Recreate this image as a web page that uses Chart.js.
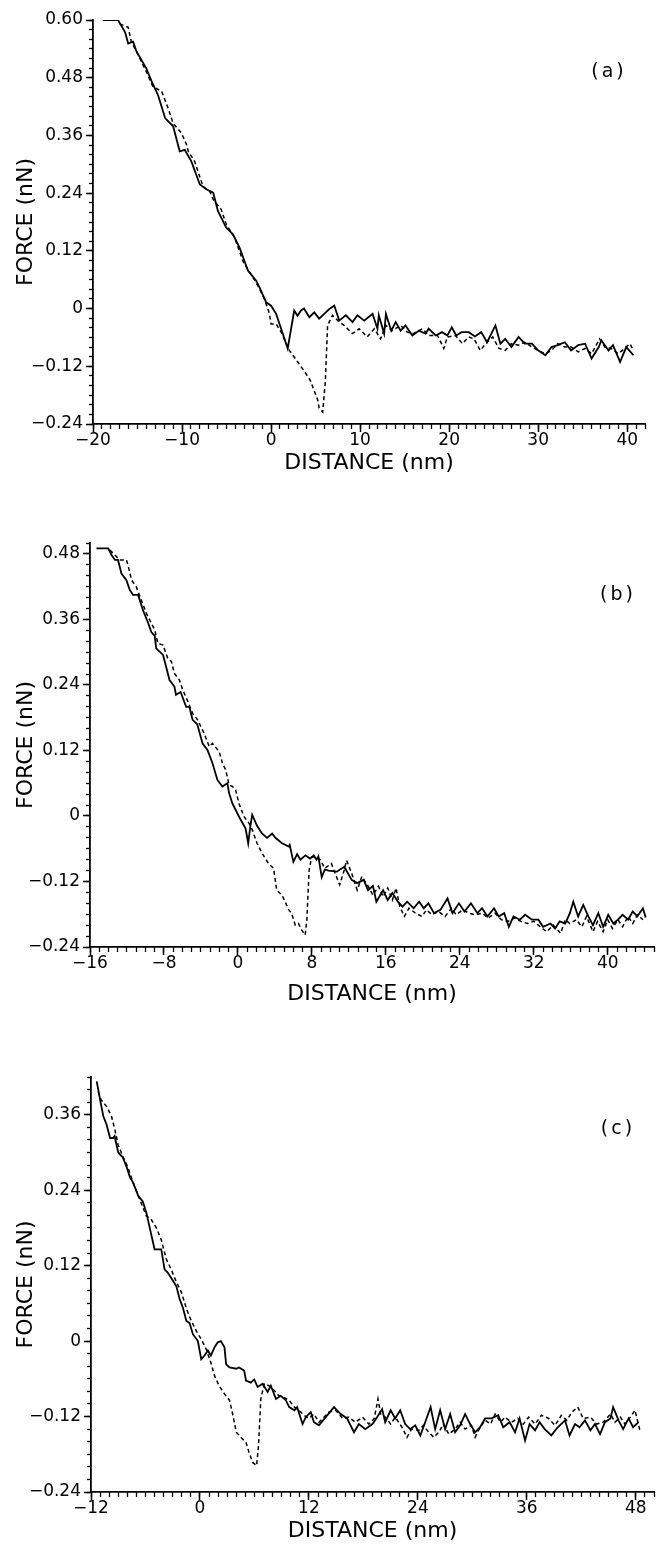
<!DOCTYPE html>
<html><head><meta charset="utf-8">
<script src="https://cdn.jsdelivr.net/npm/chart.js@4.4.0/dist/chart.umd.min.js"></script>
<style>
html,body{margin:0;padding:0;background:#fff;}
body{width:657px;height:1544px;position:relative;overflow:hidden;}
canvas{position:absolute;left:0;}
</style></head><body>
<canvas id="ca" width="657" height="476" style="top:0px;width:657px;height:476px"></canvas>
<canvas id="cb" width="657" height="534" style="top:476px;width:657px;height:534px"></canvas>
<canvas id="cc" width="657" height="534" style="top:1010px;width:657px;height:534px"></canvas>
<script>
// ---------- Panel (a) ----------
const aSolidX = [-18.9,-17.2,-16.4,-16.05,-15.5,-15.1,-14.0,-13.4,-12.7,-11.9,
  -11.0,-10.26,-9.7,-8.95,-8.0,-7.27,-6.5,-5.97,-5.03,-4.3,
  -3.54,-2.6,-1.67,-1.3,-0.55,0.0,0.57,1.13,1.87,2.6,
  2.97,3.36,3.7,4.3,4.85,5.4,5.97,6.54,7.1,7.66,
  8.4,9.15,9.7,10.46,11.4,11.95,12.1,12.7,12.9,13.5,
  14.0,14.55,15.1,15.86,16.6,17.35,17.7,18.5,19.2,19.8,
  20.3,20.8,21.4,22.2,22.9,23.6,24.26,25.2,25.76,26.3,
  27.0,27.8,28.5,29.3,30.0,30.8,31.5,32.2,33.0,33.7,
  34.5,35.27,36.0,36.8,37.1,37.9,38.4,39.2,39.9,40.7];
const aSolidY = [0.60,0.60,0.575,0.551,0.555,0.534,0.499,0.472,0.444,0.396,
  0.379,0.327,0.330,0.306,0.258,0.248,0.241,0.203,0.168,0.155,
  0.127,0.079,0.058,0.044,0.013,0.006,-0.011,-0.042,-0.083,-0.004,
  -0.015,-0.004,0.0,-0.018,-0.008,-0.021,-0.011,-0.001,0.006,-0.025,
  -0.014,-0.028,-0.014,-0.025,-0.011,-0.042,-0.014,-0.052,-0.011,-0.046,
  -0.028,-0.046,-0.035,-0.056,-0.046,-0.052,-0.042,-0.056,-0.049,-0.056,
  -0.039,-0.056,-0.049,-0.049,-0.058,-0.049,-0.070,-0.035,-0.073,-0.063,
  -0.080,-0.059,-0.073,-0.073,-0.087,-0.097,-0.080,-0.076,-0.070,-0.087,
  -0.076,-0.073,-0.104,-0.080,-0.066,-0.087,-0.076,-0.111,-0.080,-0.097];
const aDashX = [-17.0,-16.05,-15.7,-15.1,-14.0,-13.26,-12.3,-11.57,-11.0,-10.07,
  -9.5,-9.3,-8.58,-7.65,-6.9,-6.5,-5.6,-5.03,-4.1,-3.17,
  -2.05,-1.49,-0.74,-0.18,0.0,0.57,1.13,2.06,3.0,3.9,
  4.4,5.24,5.4,5.8,6.1,6.35,6.9,7.5,8.2,9.15,
  9.9,10.8,11.6,12.3,12.9,13.6,14.55,15.3,16.0,17.0,
  17.7,18.7,19.4,19.8,20.7,21.5,22.2,22.8,23.5,24.1,
  24.9,25.6,26.3,27.0,27.8,28.5,29.3,30.0,30.8,31.5,
  32.2,33.0,33.7,34.5,35.27,36.0,36.9,37.5,38.2,39.0,
  39.7,40.3,40.7];
const aDashY = [0.592,0.585,0.555,0.534,0.492,0.461,0.452,0.417,0.385,0.365,
  0.341,0.327,0.306,0.254,0.244,0.227,0.206,0.175,0.148,0.099,
  0.065,0.048,0.020,-0.011,-0.032,-0.032,-0.049,-0.087,-0.111,-0.135,
  -0.149,-0.190,-0.207,-0.215,-0.150,-0.035,-0.014,-0.025,-0.035,-0.052,
  -0.042,-0.059,-0.042,-0.063,-0.035,-0.046,-0.035,-0.049,-0.052,-0.042,
  -0.056,-0.056,-0.083,-0.059,-0.056,-0.073,-0.059,-0.063,-0.087,-0.073,
  -0.059,-0.083,-0.087,-0.073,-0.076,-0.070,-0.080,-0.087,-0.094,-0.087,
  -0.073,-0.080,-0.080,-0.090,-0.083,-0.094,-0.063,-0.080,-0.083,-0.094,
  -0.083,-0.073,-0.087];

// ---------- Panel (b) ----------
const bSolidX = [-15.3,-14.03,-13.67,-13.3,-12.97,-12.6,-12.06,-11.7,-11.35,-10.8,
  -10.27,-9.7,-9.37,-9.0,-8.84,-8.1,-7.76,-7.4,-6.87,-6.7,
  -6.2,-5.6,-5.26,-4.9,-4.4,-3.83,-3.3,-2.76,-2.22,-1.68,
  -1.14,-0.96,-0.6,-0.07,0.3,0.83,1.11,1.35,1.54,2.07,
  2.6,3.15,3.7,4.05,4.77,5.5,5.6,6.0,6.4,6.76,
  7.3,7.8,8.2,8.5,8.7,9.06,9.4,9.8,10.7,11.5,
  12.3,12.9,13.6,14.07,14.6,14.97,15.7,16.2,16.7,17.3,
  17.8,18.3,19.0,19.6,20.1,20.6,21.2,21.9,22.67,23.2,
  23.9,24.5,25.2,25.9,26.4,27.0,27.7,28.2,28.8,29.3,
  29.8,30.5,31.06,31.8,32.5,33.0,33.8,34.3,34.8,35.4,
  35.9,36.27,36.8,37.35,37.9,38.4,38.98,39.5,40.05,40.6,
  41.1,41.6,42.2,42.7,43.2,43.8,44.1];
const bSolidY = [0.49,0.49,0.478,0.469,0.469,0.444,0.432,0.414,0.405,0.405,
  0.377,0.353,0.337,0.330,0.307,0.295,0.273,0.249,0.237,0.222,
  0.227,0.200,0.200,0.176,0.168,0.133,0.121,0.097,0.066,0.054,
  0.060,0.042,0.023,0.005,-0.007,-0.023,-0.050,-0.018,0.002,-0.018,
  -0.032,-0.040,-0.032,-0.040,-0.050,-0.056,-0.053,-0.084,-0.070,-0.080,
  -0.072,-0.078,-0.072,-0.080,-0.074,-0.112,-0.098,-0.100,-0.102,-0.093,
  -0.117,-0.123,-0.117,-0.136,-0.128,-0.157,-0.136,-0.154,-0.141,-0.157,
  -0.166,-0.157,-0.169,-0.157,-0.169,-0.160,-0.178,-0.172,-0.151,-0.178,
  -0.160,-0.175,-0.160,-0.178,-0.169,-0.184,-0.169,-0.184,-0.178,-0.203,
  -0.184,-0.190,-0.181,-0.190,-0.190,-0.203,-0.197,-0.206,-0.193,-0.197,
  -0.178,-0.157,-0.184,-0.163,-0.184,-0.200,-0.178,-0.203,-0.181,-0.197,
  -0.190,-0.181,-0.190,-0.175,-0.184,-0.169,-0.186];
const bDashX = [-13.85,-13.3,-12.8,-12.06,-11.9,-11.5,-11.0,-10.6,-9.9,-9.37,
  -9.0,-8.66,-8.1,-7.6,-7.2,-6.87,-6.33,-5.97,-5.4,-4.9,
  -4.36,-3.65,-3.1,-2.76,-2.03,-1.68,-1.32,-0.96,-0.6,-0.25,
  0.11,0.65,1.19,1.54,2.07,2.6,3.3,3.85,4.2,4.77,
  5.5,5.8,6.2,6.55,6.9,7.27,7.45,7.7,7.98,8.3,
  8.9,9.4,10.1,11.0,11.5,11.75,12.3,12.9,13.4,14.1,
  14.6,15.2,15.7,16.2,16.7,17.1,17.5,18.0,18.5,19.2,
  19.9,20.4,21.0,21.7,22.4,23.1,23.6,24.3,25.0,25.7,
  26.4,27.1,27.8,28.5,29.2,29.9,30.6,31.3,32.0,32.7,
  33.4,34.1,34.9,35.4,35.9,36.6,37.2,37.7,38.4,38.9,
  39.5,40.0,40.5,41.1,41.6,42.2,42.7,43.2,43.8];
const bDashY = [0.487,0.478,0.469,0.469,0.46,0.432,0.420,0.402,0.371,0.353,
  0.341,0.316,0.313,0.289,0.283,0.261,0.249,0.231,0.209,0.188,
  0.176,0.151,0.127,0.133,0.118,0.097,0.084,0.057,0.054,0.048,
  0.023,-0.001,-0.013,-0.025,-0.050,-0.068,-0.087,-0.096,-0.136,-0.145,
  -0.172,-0.178,-0.200,-0.197,-0.209,-0.218,-0.191,-0.099,-0.075,-0.075,
  -0.080,-0.096,-0.087,-0.126,-0.099,-0.081,-0.105,-0.136,-0.111,-0.129,
  -0.145,-0.129,-0.148,-0.132,-0.154,-0.132,-0.166,-0.184,-0.169,-0.178,
  -0.184,-0.172,-0.181,-0.175,-0.184,-0.169,-0.181,-0.172,-0.178,-0.181,
  -0.178,-0.187,-0.178,-0.190,-0.193,-0.187,-0.193,-0.197,-0.193,-0.203,
  -0.212,-0.200,-0.215,-0.190,-0.197,-0.190,-0.203,-0.184,-0.212,-0.193,
  -0.212,-0.190,-0.206,-0.190,-0.203,-0.184,-0.197,-0.181,-0.190];

// ---------- Panel (c) ----------
const cSolidX = [-11.37,-11.0,-10.65,-10.28,-9.9,-9.57,-9.4,-9.0,-8.5,-8.1,
  -7.7,-7.36,-6.8,-6.3,-5.9,-5.5,-5.0,-4.26,-3.9,-3.55,
  -2.97,-2.6,-2.24,-1.9,-1.5,-1.15,-0.78,-0.23,0.14,0.5,
  0.87,1.2,1.6,1.96,2.3,2.7,2.88,3.25,4.0,4.3,
  4.87,5.07,5.6,5.97,6.35,6.9,7.45,7.8,8.37,8.9,
  9.45,9.83,10.4,10.7,11.3,11.65,12.2,12.55,13.1,13.85,
  14.76,15.5,16.2,16.96,17.5,18.2,19.0,19.5,20.06,20.4,
  21.0,21.5,22.05,22.6,23.15,23.7,24.27,24.8,25.4,25.9,
  26.45,27.0,27.55,28.1,28.65,29.2,29.75,30.3,30.85,31.4,
  32.1,32.85,33.4,34.1,34.7,35.2,35.8,36.3,36.9,37.4,
  37.96,38.7,39.4,40.2,40.7,41.3,41.8,42.4,43.0,43.5,
  44.06,44.6,45.2,45.5,46.1,46.6,47.2,47.7,48.3];
const cSolidY = [0.413,0.384,0.358,0.344,0.323,0.323,0.326,0.300,0.292,0.278,
  0.260,0.252,0.231,0.222,0.204,0.178,0.146,0.146,0.114,0.109,
  0.096,0.087,0.067,0.054,0.032,0.029,0.011,0.0,-0.029,-0.023,
  -0.015,-0.023,-0.010,-0.002,0.0,-0.010,-0.037,-0.042,-0.044,-0.042,
  -0.047,-0.063,-0.066,-0.061,-0.073,-0.068,-0.081,-0.071,-0.092,-0.087,
  -0.094,-0.105,-0.110,-0.105,-0.132,-0.121,-0.113,-0.129,-0.134,-0.121,
  -0.105,-0.116,-0.123,-0.145,-0.132,-0.140,-0.132,-0.121,-0.108,-0.129,
  -0.110,-0.123,-0.110,-0.132,-0.140,-0.134,-0.150,-0.129,-0.105,-0.140,
  -0.110,-0.140,-0.116,-0.145,-0.134,-0.116,-0.132,-0.145,-0.137,-0.123,
  -0.123,-0.118,-0.137,-0.129,-0.145,-0.123,-0.158,-0.132,-0.142,-0.129,
  -0.140,-0.150,-0.137,-0.126,-0.150,-0.132,-0.137,-0.126,-0.142,-0.132,
  -0.148,-0.129,-0.123,-0.105,-0.126,-0.140,-0.123,-0.137,-0.129];
const cDashX = [-11.2,-10.9,-10.28,-9.75,-9.37,-9.0,-8.5,-7.9,-7.36,-6.63,
  -5.9,-5.4,-4.8,-4.26,-3.7,-3.2,-2.6,-2.06,-1.5,-0.98,
  -0.4,0.14,0.69,1.2,1.6,2.1,2.7,3.25,3.6,4.0,
  4.5,5.07,5.4,5.8,6.24,6.45,6.7,7.08,7.6,8.2,
  8.7,9.3,9.8,10.4,10.9,11.45,12.0,12.55,13.1,13.65,
  14.2,14.95,15.7,16.4,17.1,17.9,18.6,19.2,19.6,19.9,
  20.4,21.0,21.5,22.25,22.8,23.3,24.1,24.6,25.2,25.75,
  26.3,26.8,27.4,28.1,28.65,29.2,29.9,30.3,30.85,31.4,
  32.0,32.5,33.1,33.6,34.3,35.0,35.6,36.2,36.9,37.6,
  38.4,39.1,39.8,40.4,40.96,41.6,42.2,43.0,43.7,44.4,
  45.2,45.7,46.3,46.8,47.4,47.9,48.5];
const cDashY = [0.397,0.384,0.373,0.358,0.336,0.312,0.294,0.275,0.252,0.225,
  0.199,0.194,0.180,0.161,0.130,0.115,0.094,0.078,0.052,0.033,
  0.016,0.003,-0.013,-0.034,-0.055,-0.071,-0.084,-0.094,-0.116,-0.145,
  -0.153,-0.161,-0.177,-0.193,-0.198,-0.166,-0.092,-0.068,-0.071,-0.079,
  -0.087,-0.090,-0.094,-0.105,-0.110,-0.118,-0.123,-0.116,-0.129,-0.121,
  -0.113,-0.110,-0.123,-0.121,-0.129,-0.121,-0.132,-0.123,-0.092,-0.116,
  -0.121,-0.132,-0.121,-0.137,-0.153,-0.140,-0.142,-0.134,-0.145,-0.153,
  -0.145,-0.132,-0.148,-0.140,-0.129,-0.140,-0.134,-0.153,-0.137,-0.126,
  -0.132,-0.116,-0.129,-0.121,-0.129,-0.123,-0.132,-0.121,-0.132,-0.118,
  -0.123,-0.134,-0.118,-0.126,-0.113,-0.105,-0.123,-0.121,-0.132,-0.129,
  -0.116,-0.129,-0.121,-0.132,-0.121,-0.110,-0.145];

// axis ranges and tick steps
const aXRange = [-20, 42], aYRange = [-0.24, 0.60];
const bXRange = [-16, 45], bYRange = [-0.24, 0.50];
const cXRange = [-12, 50], cYRange = [-0.24, 0.42];
const aXStep = 10, bXStep = 8, cXStep = 12;
const yStep = 0.12, yMinorStep = 0.02, xMinorStep = 1;
const panelNames = ['(a)', '(b)', '(c)'];
const xTitle = 'DISTANCE (nm)';
const yTitle = 'FORCE (nN)';

const FONT = "'DejaVu Sans', sans-serif";
function pts(xs, ys){ return xs.map((x,i)=>({x:x, y:ys[i]})); }
function fmtY(v){ if (Math.abs(v) < 1e-9) return '0'; return (v < 0 ? '\u2212' : '') + Math.abs(v).toFixed(2); }
function fmtX(v){ const r = Math.round(v); return (r < 0 ? '\u2212' : '') + Math.abs(r); }

const panelLabel = {
  id: 'panelLabel',
  afterDraw(chart, args, opts){
    const {ctx, chartArea} = chart;
    ctx.save();
    ctx.font = '19px ' + FONT;
    ctx.fillStyle = '#000';
    ctx.textAlign = 'center';
    ctx.textBaseline = 'middle';
    try { ctx.letterSpacing = '3px'; } catch(e) {}
    ctx.fillText(opts.text, chartArea.right + opts.dx, chartArea.top + opts.dy);
    ctx.restore();
  }
};

function makeChart(id, c){
  return new Chart(document.getElementById(id), {
    type: 'line',
    data: { datasets: [
      { data: pts(c.solidX, c.solidY), borderColor: '#000', borderWidth: 1.8, pointRadius: 0, tension: 0, fill: false },
      { data: pts(c.dashX, c.dashY), borderColor: '#000', borderWidth: 1.5, borderDash: [4, 3], pointRadius: 0, tension: 0, fill: false }
    ]},
    options: {
      responsive: false, animation: false, devicePixelRatio: 1,
      layout: { padding: c.padding },
      plugins: { legend: { display: false }, tooltip: { enabled: false },
                 panelLabel: { text: c.label, dx: -36, dy: 52 } },
      scales: {
        x: { type: 'linear', position: 'bottom', min: c.xr[0], max: c.xr[1],
             ticks: { stepSize: c.xStep, includeBounds: false, autoSkip: false, maxRotation: 0, padding: 0,
                      color: '#000', font: { family: FONT, size: 17, lineHeight: 1 }, callback: fmtX },
             grid: { drawOnChartArea: false, drawTicks: true, tickLength: 8, tickColor: '#000', tickWidth: 1.5 },
             border: { display: true, color: '#000', width: 1.8 },
             title: { display: true, text: xTitle, color: '#000', font: { family: FONT, size: 22 },
                      padding: { top: 0, bottom: c.xTitlePad } },
             afterFit: (s) => { s.height = c.xAxisH; } },
        y: { type: 'linear', position: 'left', min: c.yr[0], max: c.yr[1],
             ticks: { stepSize: yStep, includeBounds: false, autoSkip: false, padding: 3,
                      color: '#000', font: { family: FONT, size: 17, lineHeight: 1 }, callback: fmtY },
             grid: { drawOnChartArea: false, drawTicks: true, tickLength: 7, tickColor: '#000', tickWidth: 1.5 },
             border: { display: true, color: '#000', width: 1.8 },
             title: { display: true, text: yTitle, color: '#000', font: { family: FONT, size: 22 },
                      padding: { top: 13, bottom: 0 } },
             afterFit: (s) => { s.width = c.yAxisW; } },
        xMinor: { type: 'linear', axis: 'x', position: { y: c.yr[0] }, min: c.xr[0], max: c.xr[1],
             ticks: { stepSize: xMinorStep, autoSkip: false, callback: () => '', font: { size: 2 } },
             grid: { drawOnChartArea: false, drawTicks: true, tickLength: 5, tickColor: '#000', tickWidth: 1.3 },
             border: { display: false } },
        yMinor: { type: 'linear', axis: 'y', position: { x: c.xr[0] }, min: c.yr[0], max: c.yr[1],
             ticks: { stepSize: yMinorStep, autoSkip: false, callback: () => '', font: { size: 2 } },
             grid: { drawOnChartArea: false, drawTicks: true, tickLength: 4, tickColor: '#000', tickWidth: 1.3 },
             border: { display: false } }
      }
    },
    plugins: [panelLabel]
  });
}

makeChart('ca', { solidX: aSolidX, solidY: aSolidY, dashX: aDashX, dashY: aDashY,
  xr: aXRange, yr: aYRange, xStep: aXStep, label: panelNames[0],
  padding: { top: 20, right: 12, bottom: 0, left: 0 }, xAxisH: 52, yAxisW: 93, xTitlePad: 0 });
makeChart('cb', { solidX: bSolidX, solidY: bSolidY, dashX: bDashX, dashY: bDashY,
  xr: bXRange, yr: bYRange, xStep: bXStep, label: panelNames[1],
  padding: { top: 67, right: 2, bottom: 0, left: 0 }, xAxisH: 63, yAxisW: 90, xTitlePad: 3 });
makeChart('cc', { solidX: cSolidX, solidY: cSolidY, dashX: cDashX, dashY: cDashY,
  xr: cXRange, yr: cYRange, xStep: cXStep, label: panelNames[2],
  padding: { top: 67, right: 2, bottom: 0, left: 0 }, xAxisH: 52, yAxisW: 91, xTitlePad: 0 });
</script>
</body></html>
